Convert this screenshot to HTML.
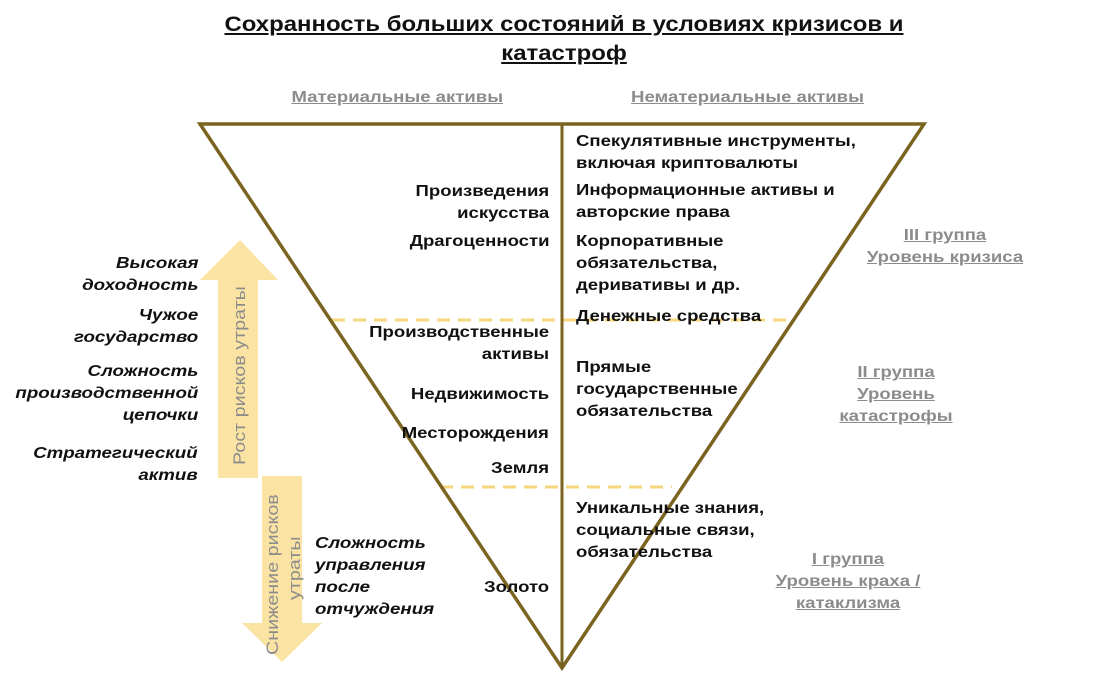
<!DOCTYPE html>
<html><head><meta charset="utf-8"><style>
body{margin:0;width:1098px;height:681px;background:#fff;position:relative;overflow:hidden;font-family:"Liberation Sans",Arial,sans-serif;}
.t{position:absolute;font-weight:bold;font-size:16px;line-height:22px;color:#111;white-space:nowrap;transform:scaleX(1.16);transform-origin:left top;}
.r{text-align:right;transform-origin:right top}
.i{font-style:italic;transform:scaleX(1.17)}
.g{color:#8c8c8c;text-decoration:underline;text-align:center;transform-origin:center top}
</style></head><body>
<svg width="1098" height="681" style="position:absolute;left:0;top:0">
<polygon points="240,240 278,280 258,280 258,478 218,478 218,280 200,280" fill="#fbe3a3"/>
<polygon points="262,476 302,476 302,623 322,623 282,662 242,623 262,623" fill="#fbe3a3"/>
<line x1="332" y1="320" x2="793" y2="320" stroke="#f5d77c" stroke-width="3" stroke-dasharray="13,8"/>
<line x1="440" y1="487" x2="672" y2="487" stroke="#f5d77c" stroke-width="3" stroke-dasharray="13,8"/>
<polygon points="200,124 924,124 562,668" fill="none" stroke="#7a6420" stroke-width="3.5"/>
<line x1="562" y1="124" x2="562" y2="668" stroke="#7a6420" stroke-width="3"/>
<text transform="translate(245,465) rotate(-90) scale(1.16,1)" font-family="Liberation Sans,Arial,sans-serif" font-size="17" fill="#8c8c8c">Рост рисков утраты</text>
<text transform="translate(278,655) rotate(-90) scale(1.16,1)" font-family="Liberation Sans,Arial,sans-serif" font-size="17" fill="#8c8c8c">Снижение рисков</text>
<text transform="translate(300,600) rotate(-90) scale(1.16,1)" font-family="Liberation Sans,Arial,sans-serif" font-size="17" fill="#8c8c8c">утраты</text>
</svg>
<div class="t" style="left:0;width:1128px;top:10px;text-align:center;font-size:21px;line-height:29px;text-decoration:underline;transform:scaleX(1.14);transform-origin:564px 0">Сохранность больших состояний в условиях кризисов и<br>катастроф</div>
<div class="t g" style="left:306px;width:182px;top:87px">Материальные активы</div>
<div class="t g" style="left:647px;width:201px;top:87px">Нематериальные активы</div>
<div class="t r" style="right:549px;top:181px">Произведения<br>искусства</div>
<div class="t r" style="right:549px;top:231px">Драгоценности</div>
<div class="t r" style="right:549px;top:322px">Производственные<br>активы</div>
<div class="t r" style="right:549px;top:384px">Недвижимость</div>
<div class="t r" style="right:549px;top:423px">Месторождения</div>
<div class="t r" style="right:549px;top:458px">Земля</div>
<div class="t r" style="right:549px;top:577px">Золото</div>
<div class="t" style="left:576px;top:131px">Спекулятивные инструменты,<br>включая криптовалюты</div>
<div class="t" style="left:576px;top:180px">Информационные активы и<br>авторские права</div>
<div class="t" style="left:576px;top:231px">Корпоративные<br>обязательства,<br>деривативы и др.</div>
<div class="t" style="left:576px;top:306px">Денежные средства</div>
<div class="t" style="left:576px;top:357px">Прямые<br>государственные<br>обязательства</div>
<div class="t" style="left:576px;top:498px">Уникальные знания,<br>социальные связи,<br>обязательства</div>
<div class="t r i" style="right:900px;top:253px;transform-origin:right top">Высокая<br>доходность</div>
<div class="t r i" style="right:900px;top:305px;transform-origin:right top">Чужое<br>государство</div>
<div class="t r i" style="right:900px;top:361px;transform-origin:right top">Сложность<br>производственной<br>цепочки</div>
<div class="t r i" style="right:900px;top:443px;transform-origin:right top">Стратегический<br>актив</div>
<div class="t i" style="left:315px;top:533px">Сложность<br>управления<br>после<br>отчуждения</div>
<div class="t g" style="left:875px;width:140px;top:225px">III группа<br>Уровень кризиса</div>
<div class="t g" style="left:826px;width:140px;top:362px">II группа<br>Уровень<br>катастрофы</div>
<div class="t g" style="left:768px;width:160px;top:549px">I группа<br>Уровень краха /<br>катаклизма</div>
</body></html>
